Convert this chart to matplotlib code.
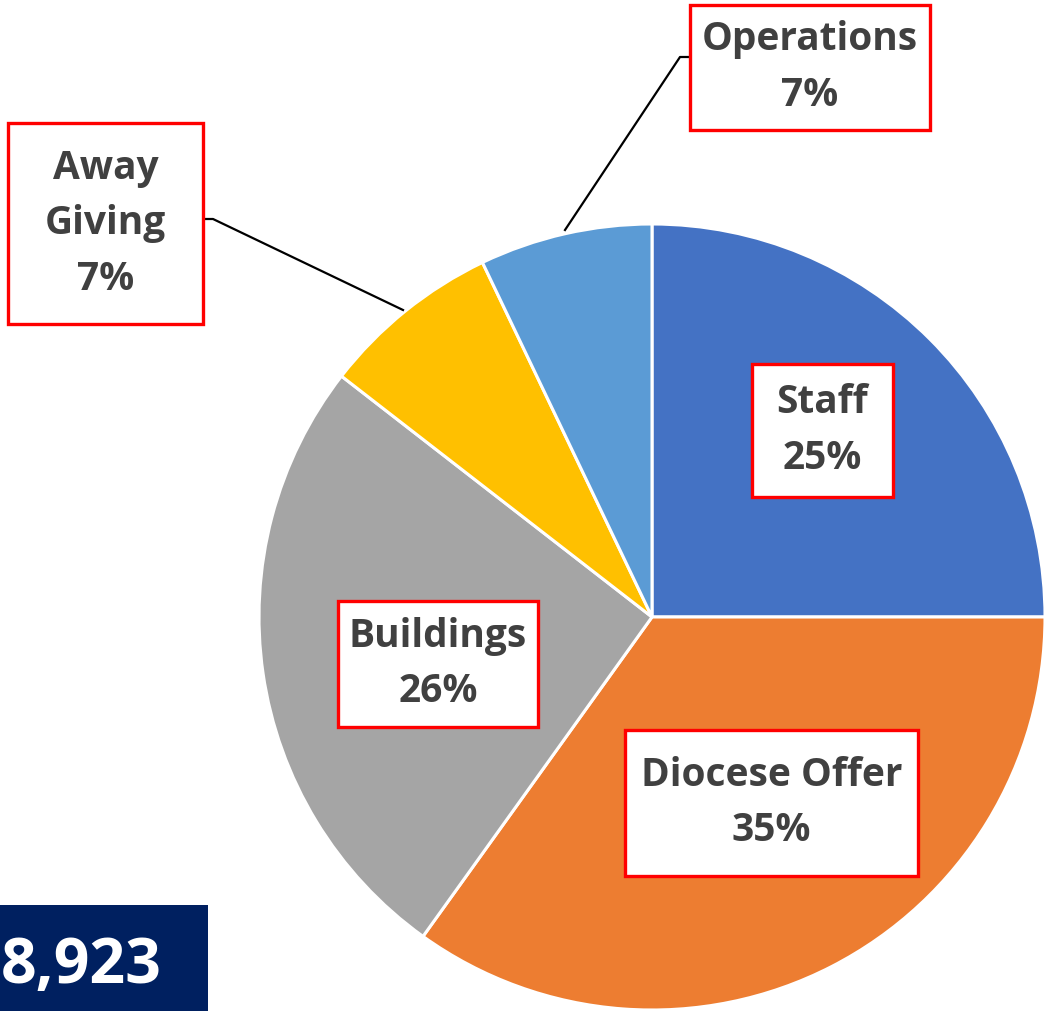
import matplotlib
matplotlib.use("Agg")
import matplotlib.pyplot as plt
from matplotlib.patches import Rectangle

categories = ["Staff", "Diocese Offer", "Buildings", "Away Giving", "Operations"]
values = [25.0, 34.9, 25.6, 7.4, 7.1]
colors = ["#4472C4", "#ED7D31", "#A5A5A5", "#FFC000", "#5B9BD5"]
label_text = ["Staff", "Diocese Offer", "Buildings", "Away\nGiving", "Operations"]
total_text = "8,923"

W, H = 1045, 1011
fig = plt.figure(figsize=(W / 100, H / 100), dpi=100)
ax = fig.add_axes([0, 0, 1, 1])
ax.set_xlim(0, W)
ax.set_ylim(0, H)
ax.set_aspect("equal")
ax.axis("off")

def Y(py):
    return H - py

cx, cy, r = 652, Y(617), 393
ax.pie(values, colors=colors, startangle=90, counterclock=False,
       center=(cx, cy), radius=r, frame=True,
       wedgeprops=dict(edgecolor="white", linewidth=2.2))
ax.set_xlim(0, W)
ax.set_ylim(0, H)
ax.axis("off")

tot = sum(values)
# label boxes: (x0, y0, x1, y1) in pixel coordinates
boxes = [
    (752, 364, 893, 497),
    (625, 730, 918, 876),
    (338, 601, 538, 727),
    (8, 123, 203, 324),
    (690, 5, 930, 130),
]
font = dict(family=["Open Sans", "DejaVu Sans"], weight="bold", size=28, color="#404040")
for name, v, (x0, y0, x1, y1) in zip(label_text, values, boxes):
    ax.add_patch(Rectangle((x0, Y(y1)), x1 - x0, y1 - y0, facecolor="white",
                           edgecolor="#FF0000", linewidth=2.4, zorder=5))
    ax.text((x0 + x1) / 2, Y((y0 + y1) / 2), f"{name}\n{v / tot * 100:.0f}%",
            ha="center", va="center", multialignment="center",
            linespacing=1.55, zorder=6, **font)

# leader lines
ax.plot([690, 680, 565], [Y(57), Y(57), Y(230)], color="black", lw=1.6, zorder=4)
ax.plot([203, 213, 403], [Y(219), Y(219), Y(310)], color="black", lw=1.6, zorder=4)

# total box
ax.add_patch(Rectangle((0, 0), 208, Y(905), facecolor="#002060", edgecolor="none", zorder=5))
ax.text(1, Y(983), total_text, ha="left", va="baseline", color="white",
        family=["Open Sans", "DejaVu Sans"], weight="bold", size=45, zorder=6)

fig.savefig("out.png", dpi=100)
